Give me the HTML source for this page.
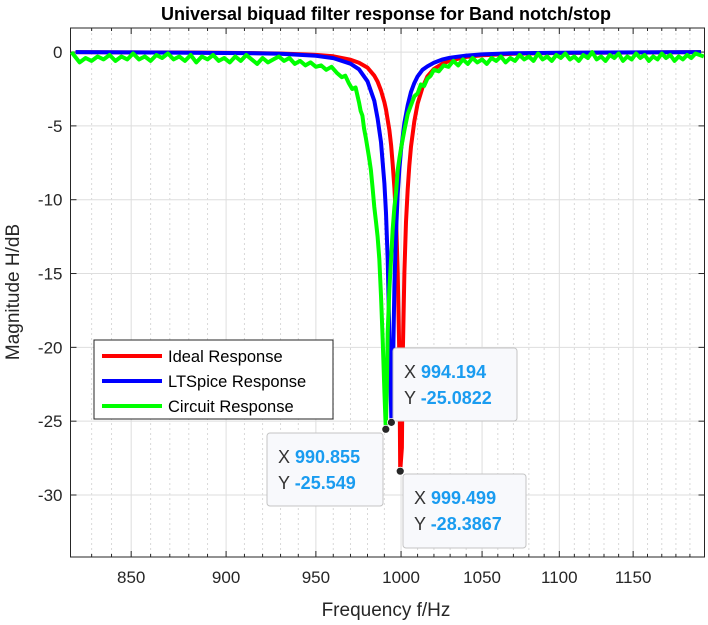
<!DOCTYPE html>
<html><head><meta charset="utf-8"><style>
body{margin:0;background:#fff;}
svg{display:block;font-family:"Liberation Sans",sans-serif;}
</style></head><body>
<svg id="chart" width="708" height="625">
<text x="386" y="20" text-anchor="middle" font-size="18" font-weight="bold">Universal biquad filter response for Band notch/stop</text>
<text x="386" y="616" text-anchor="middle" font-size="19" fill="#262626">Frequency f/Hz</text>
<text transform="translate(19,292) rotate(-90)" text-anchor="middle" font-size="19" fill="#262626">Magnitude H/dB</text>
<g id="grid"></g><g id="axes"></g><g id="series"></g><g id="overlay"></g>
</svg>
<script>
const xTicks=[850,900,950,1000,1050,1100,1150];
const yTicks=[0,-5,-10,-15,-20,-25,-30];
const redF=[822,850,880,910,930,950,960,970,975,980,984,986,988,990,991,992,993,994,995,996,997,998,999,999.499,1000.5,1001,1002,1003,1004,1005,1006,1008,1010,1013,1016,1020,1025,1030,1040,1050,1070,1100,1150,1198];
const redDb=[0,-0.02,-0.03,-0.06,-0.1,-0.19,-0.29,-0.52,-0.73,-1.05,-1.6,-2.0,-2.6,-3.4,-3.9,-4.6,-5.3,-6.3,-7.6,-9.2,-11.4,-14.9,-20.8,-28.3867,-26.8,-20.8,-14.9,-11.5,-9.3,-7.7,-6.4,-4.7,-3.5,-2.4,-1.65,-1.14,-0.8,-0.57,-0.33,-0.22,-0.12,-0.06,-0.03,0];
const blueF=[822,850,880,910,930,950,960,970,975,980,984,986,988,990,991,992,993,994.194,995,996,997,998,999,1000,1002,1004,1006,1008,1010,1013,1016,1020,1025,1030,1040,1050,1070,1100,1150,1198];
const blueDb=[0,-0.02,-0.04,-0.07,-0.12,-0.25,-0.41,-0.79,-1.17,-1.98,-3.3,-4.5,-6.1,-8.9,-10.9,-14.1,-19.3,-25.0822,-22.6,-15.8,-12.1,-9.6,-7.9,-6.6,-4.8,-3.6,-2.7,-2.1,-1.65,-1.2,-0.97,-0.73,-0.51,-0.38,-0.24,-0.16,-0.08,-0.05,-0.02,0];
const greenF=[820,824,827,830,833,836,839,842,845,848,851,854,857,860,863,866,869,872,875,878,881,884,887,890,893,896,899,902,905,908,911,914,917,920,923,926,929,932,935,938,941,944,947,950,953,956,959,962,965,967,969,971,973,975,976,977,978,979,980,981,982,983,984,985,986,987,988,989,990,990.855,991.5,992,993,994,995,996,997,998,999,1000,1002,1004,1006,1008,1010,1012,1014,1016,1018,1020,1023,1026,1029,1032,1035,1038,1041,1044,1047,1050,1053,1056,1059,1062,1065,1068,1071,1074,1077,1080,1083,1086,1089,1092,1095,1098,1101,1104,1107,1110,1113,1116,1119,1122,1125,1128,1131,1134,1137,1140,1143,1146,1149,1152,1155,1158,1161,1164,1167,1170,1173,1176,1179,1182,1185,1188,1191,1194,1200];
const greenDb=[0,-0.7,-0.4,-0.6,-0.3,-0.5,-0.2,-0.6,-0.3,-0.5,-0.1,-0.5,-0.3,-0.6,-0.2,-0.4,-0.1,-0.5,-0.3,-0.6,-0.2,-0.7,-0.3,-0.5,-0.2,-0.6,-0.4,-0.7,-0.3,-0.6,-0.2,-0.5,-0.8,-0.4,-0.7,-0.5,-0.3,-0.6,-0.4,-0.8,-0.6,-0.9,-0.7,-1.0,-0.9,-1.2,-1.0,-1.4,-1.7,-1.6,-2.1,-2.5,-2.4,-3.4,-4.0,-4.3,-5.2,-5.8,-6.5,-7.2,-8.0,-9.2,-10.5,-11.5,-12.5,-14.0,-16.5,-19.5,-23.0,-25.549,-22.5,-19.0,-16.0,-14.0,-12.0,-10.5,-9.5,-8.0,-7.2,-6.5,-5.3,-4.2,-3.6,-3.0,-2.8,-2.2,-2.3,-1.8,-1.6,-1.2,-1.3,-0.9,-1.0,-0.6,-0.9,-0.5,-0.8,-0.4,-0.7,-0.5,-0.8,-0.4,-0.6,-0.3,-0.7,-0.4,-0.6,-0.2,-0.5,-0.3,-0.6,-0.1,-0.5,-0.3,-0.6,-0.2,-0.4,-0.1,-0.5,-0.3,-0.6,-0.2,-0.4,0.0,-0.5,-0.3,-0.6,-0.2,-0.4,-0.1,-0.6,-0.3,-0.5,-0.1,-0.4,-0.2,-0.6,-0.3,-0.5,-0.1,-0.4,-0.2,-0.6,-0.3,-0.5,-0.2,-0.4,-0.1,-0.3];
const seriesNames=["Ideal Response","LTSpice Response","Circuit Response"];
const tipX=[994.194,990.855,999.499];
const tipY=[-25.0822,-25.549,-28.3867];

const NS="http://www.w3.org/2000/svg";
const L=70.5,R=704.5,T=28,B=557,XMIN=819.5,XMAX=1200.5,YMIN=-34.2,YMAX=1.63;
function xs(f){return L+(R-L)*Math.log(f/XMIN)/Math.log(XMAX/XMIN);}
function ys(v){return T+(B-T)*(YMAX-v)/(YMAX-YMIN);}
function mk(tag,attrs,parent){const e=document.createElementNS(NS,tag);for(const k in attrs)e.setAttribute(k,attrs[k]);parent.appendChild(e);return e;}
const grid=document.getElementById('grid'),axes=document.getElementById('axes'),series=document.getElementById('series'),ov=document.getElementById('overlay');
for(let f=830;f<=1200;f+=10){if(f%50===0)continue;const x=xs(f);
 const g=mk('line',{x1:x,x2:x,y1:T,y2:B,stroke:'#d8d8d8','stroke-width':1,'stroke-dasharray':'2,3'},grid);
 
 
 mk('line',{x1:x,x2:x,y1:B,y2:B-3,stroke:'#262626'},axes);
 mk('line',{x1:x,x2:x,y1:T,y2:T+3,stroke:'#262626'},axes);}
xTicks.forEach(f=>{const x=xs(f);
 const g=mk('line',{x1:x,x2:x,y1:T,y2:B,stroke:'#dedede','stroke-width':1},grid);
 
 
 mk('line',{x1:x,x2:x,y1:B,y2:B-6,stroke:'#262626'},axes);
 mk('line',{x1:x,x2:x,y1:T,y2:T+6,stroke:'#262626'},axes);
 const t=mk('text',{x:x,y:B+26,'text-anchor':'middle','font-size':17,fill:'#262626'},axes);t.textContent=f;
 
 });
yTicks.forEach(v=>{const y=ys(v);
 const g=mk('line',{x1:L,x2:R,y1:y,y2:y,stroke:'#dedede','stroke-width':1},grid);
 
 
 mk('line',{x1:L,x2:L+6,y1:y,y2:y,stroke:'#262626'},axes);
 mk('line',{x1:R,x2:R-6,y1:y,y2:y,stroke:'#262626'},axes);
 const t=mk('text',{x:L-8,y:y+6,'text-anchor':'end','font-size':17,fill:'#262626'},axes);t.textContent=v;
 
 });
const fr=mk('rect',{x:L,y:T,width:R-L,height:B-T,fill:'none',stroke:'#262626','stroke-width':1},axes);


function line(F,D,color,name){const p=F.map((f,i)=>xs(f).toFixed(1)+','+ys(D[i]).toFixed(1)).join(' ');
 const e=mk('polyline',{points:p,fill:'none',stroke:color,'stroke-width':4,'stroke-linejoin':'round'},series);
 
 }
line(redF,redDb,'#ff0000','ideal-response-line');
line(blueF,blueDb,'#0000ff','ltspice-response-line');
line(greenF,greenDb,'#00ff00','circuit-response-line');
const lg=mk('g',{},ov);


mk('rect',{x:94,y:340,width:239,height:79,fill:'#fff',stroke:'#262626','stroke-width':1},lg);
const lc=['#ff0000','#0000ff','#00ff00'];
seriesNames.forEach((n,i)=>{const y=356+i*25;
 const e=mk('g',{},lg);
 
 
 mk('line',{x1:102,x2:162,y1:y,y2:y,stroke:lc[i],'stroke-width':4},e);
 const t=mk('text',{x:168,y:y+6,'font-size':16.5,fill:'#000'},e);t.textContent=n;});
const boxes=[[393,348,124,73],[267,433,116,73],[403,474,123,74]];
tipX.forEach((fx,i)=>{const b=boxes[i];
 const g=mk('g',{},ov);
 
 
 mk('rect',{x:b[0],y:b[1],width:b[2],height:b[3],rx:3,fill:'#f8f9fc',stroke:'#c4c4c4','stroke-width':1},g);
 const t1=mk('text',{x:b[0]+11,y:b[1]+30,'font-size':18,fill:'#333'},g);
 t1.innerHTML='X <tspan fill="#1a9cf0" font-weight="bold">'+fx+'</tspan>';
 const t2=mk('text',{x:b[0]+11,y:b[1]+56,'font-size':18,fill:'#333'},g);
 t2.innerHTML='Y <tspan fill="#1a9cf0" font-weight="bold">'+tipY[i]+'</tspan>';
 const c=mk('circle',{cx:xs(fx),cy:ys(tipY[i]),r:4,fill:'#262626',stroke:'#fff','stroke-width':0.8},g);
 
 });
</script>
</body></html>
